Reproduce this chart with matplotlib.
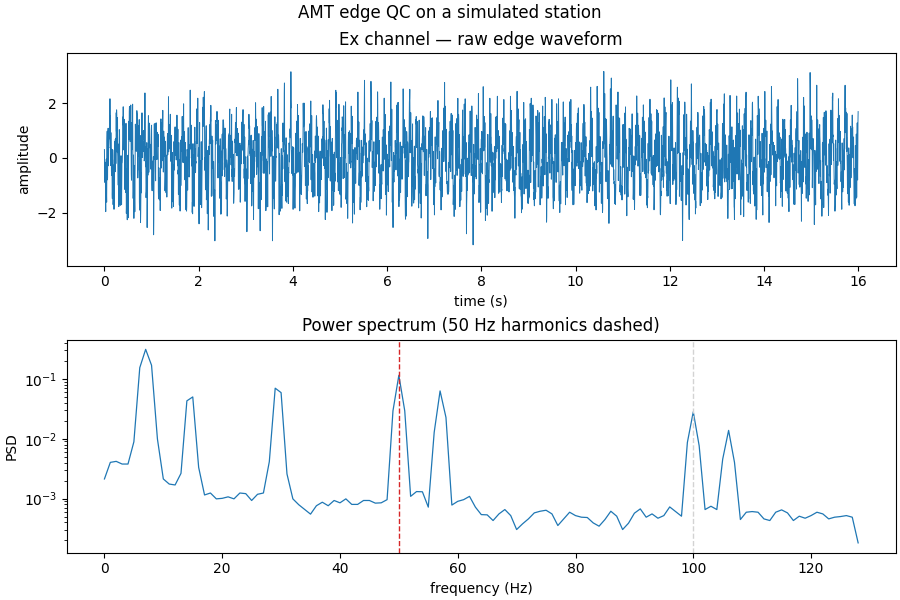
import numpy as np
import matplotlib
matplotlib.use('Agg')
import matplotlib.pyplot as plt

# Spectrum values (1 Hz bins, 0..128 Hz)
psd_freq = np.arange(0, 129)
psd_vals = [
    2.13e-3, 4.03e-3, 4.19e-3, 3.78e-3, 3.78e-3, 8.9e-3, 0.154, 0.312, 0.169, 9.9e-3,
    2.13e-3, 1.75e-3, 1.69e-3, 2.64e-3, 0.043, 0.050, 3.33e-3, 1.15e-3, 1.24e-3, 0.99e-3,
    1.01e-3, 1.07e-3, 0.99e-3, 1.24e-3, 1.21e-3, 0.93e-3, 1.18e-3, 1.24e-3, 4.14e-3, 0.070,
    0.059, 2.58e-3, 0.99e-3, 7.9e-4, 6.6e-4, 5.5e-4, 7.6e-4, 8.7e-4, 7.6e-4, 9.3e-4,
    8.5e-4, 9.9e-4, 8.0e-4, 8.0e-4, 9.3e-4, 9.3e-4, 8.4e-4, 8.5e-4, 9.6e-4, 0.0293,
    0.115, 0.0293, 1.09e-3, 1.31e-3, 1.30e-3, 7.2e-4, 0.0128, 0.063, 0.0227, 7.8e-4,
    9.0e-4, 9.6e-4, 1.09e-3, 7.2e-4, 5.4e-4, 5.35e-4, 4.3e-4, 5.55e-4, 6.56e-4, 5.2e-4,
    3.04e-4, 3.78e-4, 4.58e-4, 5.77e-4, 6.15e-4, 6.39e-4, 5.55e-4, 3.55e-4, 4.58e-4, 5.92e-4,
    5.2e-4, 4.89e-4, 4.83e-4, 3.93e-4, 3.46e-4, 4.47e-4, 6.15e-4, 5.08e-4, 3.04e-4, 3.88e-4,
    5.7e-4, 6.73e-4, 4.89e-4, 5.55e-4, 4.7e-4, 5.2e-4, 7.26e-4, 6.07e-4, 5.08e-4, 8.69e-3,
    0.0282, 7.64e-3, 6.56e-4, 7.45e-4, 6.56e-4, 4.58e-3, 0.0138, 4.03e-3, 4.47e-4, 5.92e-4,
    6.07e-4, 5.92e-4, 4.58e-4, 4.3e-4, 5.92e-4, 6.48e-4, 5.77e-4, 4.3e-4, 5.08e-4, 4.7e-4,
    5.2e-4, 5.92e-4, 5.55e-4, 4.58e-4, 4.89e-4, 5.01e-4, 5.2e-4, 4.89e-4, 1.82e-4,
]

# Waveform built from the components visible in the spectrum
# (main peaks with small side tones for their width, plus floor tones)
fs = 256
duration = 16
tone_freqs = [7.05, 6.45, 7.65, 14.6, 15.3, 29.4, 30.1, 50.0, 57.1, 56.4, 100.0, 106.2,
              1.4, 2.7, 3.9,
              11.3, 18.7, 21.1, 23.9, 34.6, 38.2, 41.2, 45.8, 63.3, 67.5, 71.9, 78.4,
              82.2, 86.7, 93.1, 96.4, 112.6, 116.1, 119.3, 124.8]
tone_amps = [0.86, 0.30, 0.28, 0.36, 0.20, 0.40, 0.22, 0.55, 0.36, 0.17, 0.28, 0.20,
             0.10, 0.10, 0.10,
             0.11, 0.11, 0.11, 0.11, 0.09, 0.09, 0.09, 0.09, 0.08, 0.08, 0.08, 0.08,
             0.08, 0.08, 0.08, 0.08, 0.08, 0.08, 0.08, 0.08]
tone_phases = [1.3, 2.2, 4.0, 1.9, 4.8, 4.1, 0.6, 1.0, 5.2, 1.1, 0.9, 3.6,
               0.5, 2.9, 4.4,
               1.7, 5.9, 3.0, 3.3, 0.2, 5.0, 4.6, 2.1, 5.5, 0.7, 1.2, 3.8,
               2.4, 0.8, 2.5, 5.7, 4.9, 1.9, 6.1, 1.5]

harmonics = [50, 100]
harmonic_colors = ['tab:red', 'lightgray']

t = np.arange(0, duration, 1 / fs)
wave = np.zeros_like(t)
for f, a, p in zip(tone_freqs, tone_amps, tone_phases):
    wave += a * np.cos(2 * np.pi * f * t + p)

fig, (ax1, ax2) = plt.subplots(2, 1, figsize=(9, 6), dpi=100, layout='constrained')
fig.suptitle('AMT edge QC on a simulated station')

ax1.plot(t, wave, lw=0.7, color='tab:blue')
ax1.set_ylim(-3.95, 3.85)
ax1.set_title('Ex channel — raw edge waveform')
ax1.set_xlabel('time (s)')
ax1.set_ylabel('amplitude')

ax2.semilogy(psd_freq, psd_vals, lw=0.9, color='tab:blue')
for h, c in zip(harmonics, harmonic_colors):
    ax2.axvline(h, color=c, ls='--', lw=1)
ax2.set_title('Power spectrum (50 Hz harmonics dashed)')
ax2.set_xlabel('frequency (Hz)')
ax2.set_ylabel('PSD')

fig.savefig('out.png')
